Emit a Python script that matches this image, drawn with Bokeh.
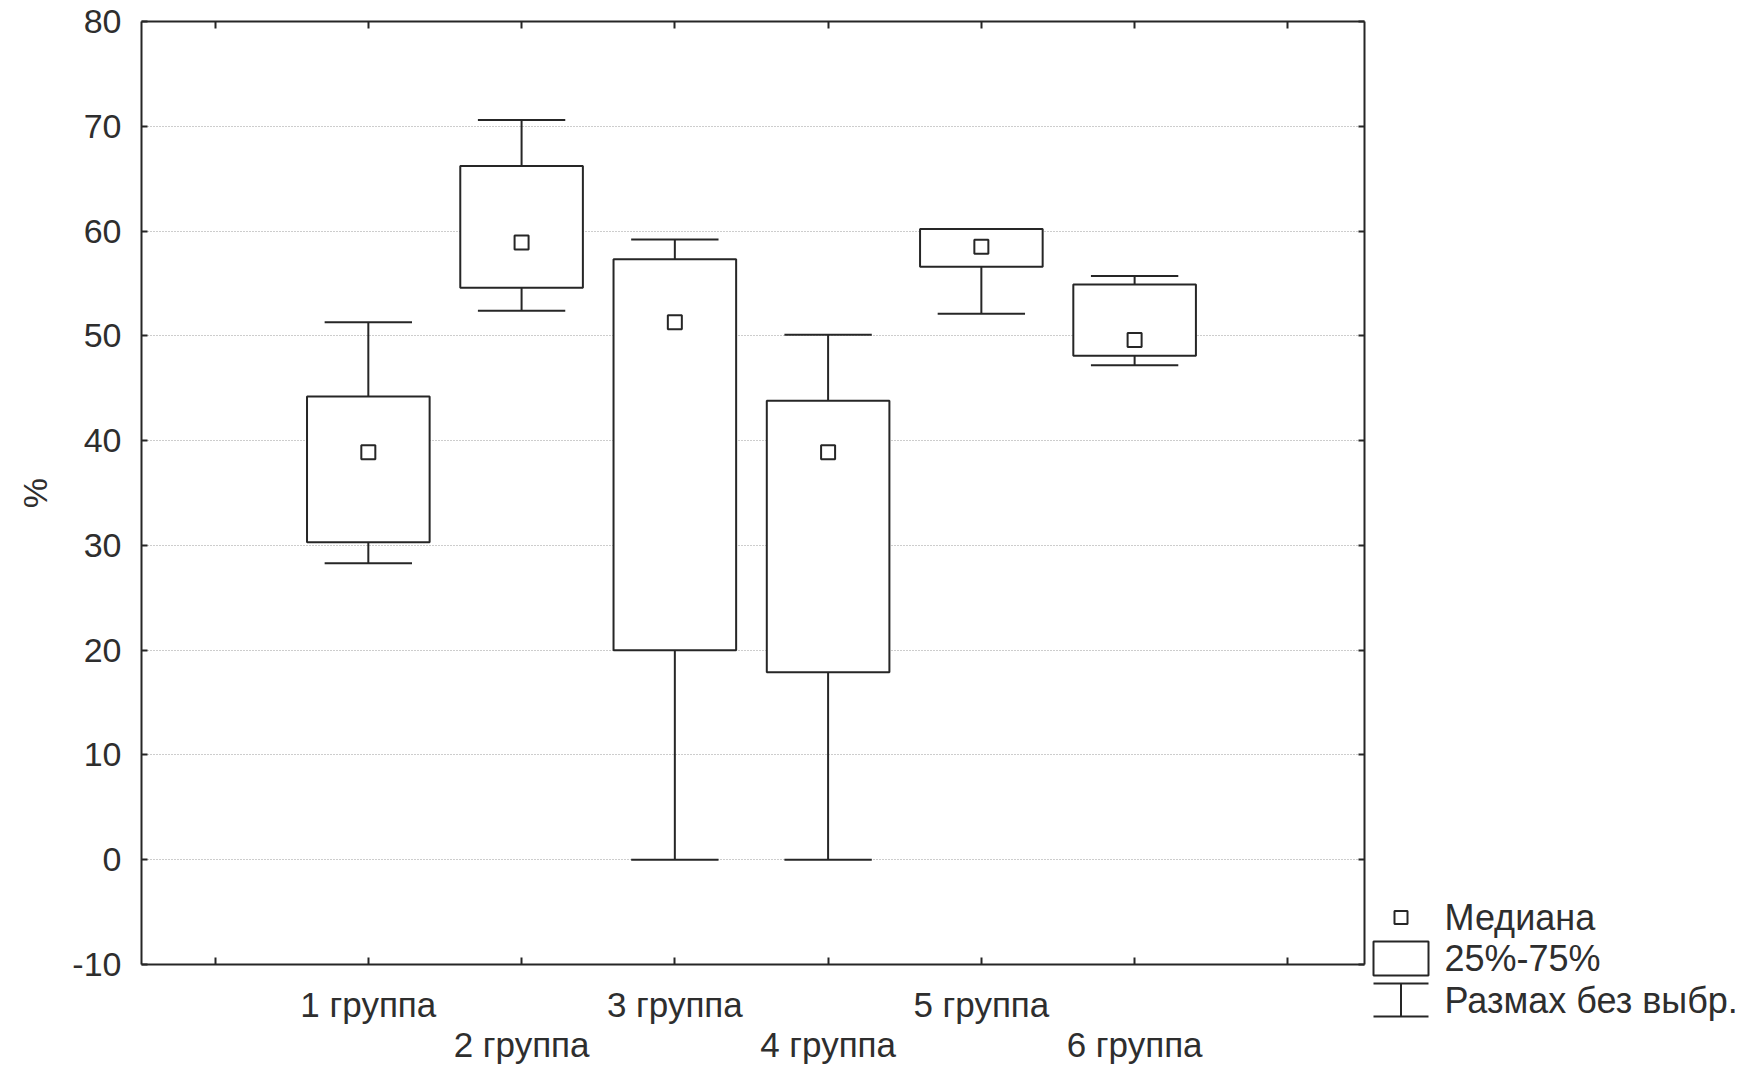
import numpy as np
from bokeh.plotting import figure
from bokeh.models import ColumnDataSource, FixedTicker, LinearAxis, Range1d, Grid
from bokeh.layouts import row
from bokeh.embed import file_html
from bokeh.resources import INLINE
from bokeh.core.properties import value

# ---------------- data ----------------
groups = ["1 группа", "2 группа", "3 группа", "4 группа", "5 группа", "6 группа"]
whisker_low = [28.3, 52.4, 0.0, 0.0, 52.1, 47.2]
q25 = [30.3, 54.6, 20.0, 17.9, 56.6, 48.1]
median = [38.9, 58.9, 51.3, 38.9, 58.5, 49.6]
q75 = [44.2, 66.2, 57.3, 43.8, 60.2, 54.9]
whisker_high = [51.3, 70.6, 59.2, 50.1, 60.2, 55.7]

y_ticks = [-10, 0, 10, 20, 30, 40, 50, 60, 70, 80]
y_tick_labels = ["-10", "0", "10", "20", "30", "40", "50", "60", "70", "80"]
x_ticks = [0, 1, 2, 3, 4, 5, 6, 7]
y_axis_label = "%"
legend_labels = ["Медиана", "25%-75%", "Размах без выбр."]

# ---------------- style ----------------
FONT = "Liberation Sans"
INK = "#262626"
TXT = "#2e2e2e"
FS_Y = "34px"
FS_X = "35px"
FS_L = "36px"
BOX_W = 0.8
CAP_W = 0.57

x = np.arange(1, len(groups) + 1)
src = ColumnDataSource(dict(
    x=x, lo=whisker_low, q1=q25, med=median, q3=q75, hi=whisker_high,
    left=x - BOX_W / 2, right=x + BOX_W / 2,
    cl=x - CAP_W / 2, cr=x + CAP_W / 2,
))

p = figure(frame_width=1223, frame_height=943, title=None,
           x_range=Range1d(-0.48, 7.5), y_range=Range1d(-10, 80),
           x_axis_type=None, y_axis_type=None,
           output_backend="svg", toolbar_location=None,
           min_border_left=141, min_border_top=21, min_border_right=6,
           min_border_bottom=10)
p.outline_line_color = None
p.background_fill_color = "white"
p.border_fill_color = "white"
if "frame_align" in p.properties():
    p.frame_align = False

yticker = FixedTicker(ticks=y_ticks)
xticker = FixedTicker(ticks=x_ticks)

def style_axis(ax, fs):
    ax.axis_line_color = INK
    ax.axis_line_width = 2
    ax.major_tick_line_color = INK
    ax.major_tick_line_width = 2
    ax.minor_tick_line_color = None
    ax.major_label_text_font = FONT
    ax.major_label_text_font_size = fs
    ax.major_label_text_color = TXT

left = LinearAxis(ticker=yticker, axis_label=y_axis_label,
                  major_label_overrides=dict(zip(y_ticks, y_tick_labels)))
style_axis(left, FS_Y)
left.major_tick_in = 6
left.major_tick_out = 0
left.major_label_standoff = 20
left.axis_label_standoff = 15
left.axis_label_text_font = FONT
left.axis_label_text_font_size = FS_Y
left.axis_label_text_font_style = "normal"
left.axis_label_text_color = TXT
p.add_layout(left, "left")

right = LinearAxis(ticker=yticker, major_label_overrides={t: "" for t in y_ticks})
style_axis(right, FS_Y)
right.major_tick_in = 6
right.major_tick_out = 0
right.major_label_standoff = 0
p.add_layout(right, "right")

top = LinearAxis(ticker=xticker, major_label_overrides={t: "" for t in x_ticks})
style_axis(top, FS_X)
top.major_tick_in = 7
top.major_tick_out = 0
top.major_label_standoff = 0
p.add_layout(top, "above")

row1 = {t: "" for t in x_ticks}
row2 = {}
for i, g in enumerate(groups):
    if i % 2 == 0:
        row1[int(x[i])] = g
    else:
        row2[int(x[i])] = g

bottom = LinearAxis(ticker=xticker, major_label_overrides=row1)
style_axis(bottom, FS_X)
bottom.major_tick_in = 7
bottom.major_tick_out = 0
bottom.major_label_standoff = 20
p.add_layout(bottom, "below")

bottom2 = LinearAxis(ticker=FixedTicker(ticks=sorted(row2.keys())), major_label_overrides=row2)
style_axis(bottom2, FS_X)
bottom2.axis_line_color = None
bottom2.major_tick_line_color = None
bottom2.major_tick_in = 0
bottom2.major_tick_out = 0
bottom2.major_label_standoff = -2
p.add_layout(bottom2, "below")

grid = Grid(dimension=1, ticker=yticker, grid_line_color="#9a9a9a",
            grid_line_dash="1 2", grid_line_width=1)
p.add_layout(grid)

# whisker stems
p.segment(x0="x", x1="x", y0="lo", y1="q1", source=src, line_color=INK, line_width=2)
p.segment(x0="x", x1="x", y0="q3", y1="hi", source=src, line_color=INK, line_width=2)
# caps
p.segment(x0="cl", x1="cr", y0="lo", y1="lo", source=src, line_color=INK, line_width=2)
p.segment(x0="cl", x1="cr", y0="hi", y1="hi", source=src, line_color=INK, line_width=2)
# boxes
p.quad(left="left", right="right", bottom="q1", top="q3", source=src,
       fill_color="white", line_color=INK, line_width=2)
# medians
p.scatter(x="x", y="med", source=src, marker="square", size=14,
          fill_color="white", line_color=INK, line_width=2)

# ---------------- legend panel (key symbols, in pixel coordinates) ----------------
LW, LH = 380, 1060
lf = figure(width=LW, height=LH, title=None,
            x_range=Range1d(0, LW), y_range=Range1d(LH, 0),
            x_axis_type=None, y_axis_type=None, output_backend="svg",
            toolbar_location=None, min_border=0,
            min_border_left=0, min_border_right=0, min_border_top=0, min_border_bottom=0)
lf.outline_line_color = None
lf.background_fill_color = "white"
lf.border_fill_color = "white"
if "frame_align" in lf.properties():
    lf.frame_align = False

key_x0, key_x1 = 3, 58
key_cx = (key_x0 + key_x1) / 2
row_y = [917, 958, 1000]
text_x = 74

lf.scatter(x=[key_cx], y=[row_y[0]], marker="square", size=13,
           fill_color="white", line_color=INK, line_width=2)
lf.quad(left=[key_x0], right=[key_x1], top=[row_y[1] - 17], bottom=[row_y[1] + 17],
        fill_color="white", line_color=INK, line_width=2)
lf.segment(x0=[key_x0, key_x0, key_cx], x1=[key_x1, key_x1, key_cx],
           y0=[row_y[2] - 17, row_y[2] + 16, row_y[2] - 17],
           y1=[row_y[2] - 17, row_y[2] + 16, row_y[2] + 16],
           line_color=INK, line_width=2)
lf.text(x=[text_x] * 3, y=row_y, text=legend_labels, text_font=value(FONT),
        text_font_size=FS_L, text_baseline="middle", text_align="left", text_color=TXT)

layout = row(p, lf)
open("out.html", "w").write(file_html(layout, INLINE))
